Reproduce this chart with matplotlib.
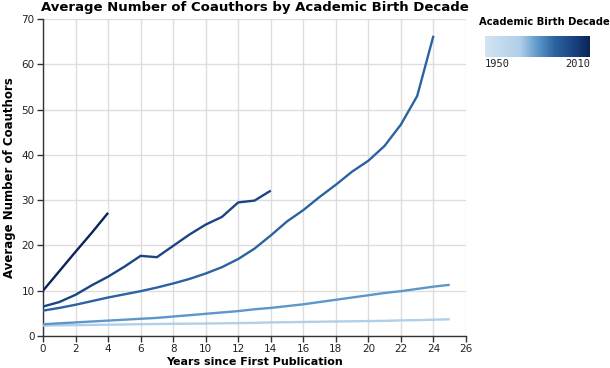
import numpy as np
import matplotlib
matplotlib.use("Agg")
import matplotlib.pyplot as plt
from matplotlib.colors import LinearSegmentedColormap, Normalize

# ---- data ----
decades = [1970, 1980, 1990, 2000, 2010]
years_1970 = list(range(0, 26))
vals_1970 = [2.3, 2.35, 2.4, 2.45, 2.5, 2.55, 2.6, 2.65, 2.7, 2.72, 2.75, 2.8, 2.85, 2.9,
             3.0, 3.05, 3.1, 3.15, 3.2, 3.25, 3.3, 3.35, 3.45, 3.5, 3.6, 3.7]
years_1980 = list(range(0, 26))
vals_1980 = [2.6, 2.8, 3.0, 3.2, 3.4, 3.6, 3.8, 4.0, 4.3, 4.6, 4.9, 5.2, 5.5, 5.9,
             6.2, 6.6, 7.0, 7.5, 8.0, 8.5, 9.0, 9.5, 9.9, 10.4, 10.9, 11.3]
years_1990 = list(range(0, 25))
vals_1990 = [5.6, 6.2, 6.9, 7.7, 8.5, 9.2, 9.9, 10.7, 11.6, 12.6, 13.8, 15.2, 17.0, 19.3,
             22.2, 25.3, 27.8, 30.7, 33.4, 36.3, 38.7, 42.0, 46.7, 53.0, 66.3]
years_2000 = list(range(0, 15))
vals_2000 = [6.5, 7.5, 9.1, 11.2, 13.1, 15.3, 17.7, 17.4, 19.9, 22.4, 24.6, 26.3, 29.5, 29.9, 32.1]
years_2010 = list(range(0, 5))
vals_2010 = [10.0, 14.3, 18.6, 22.8, 27.2]

series_x = [years_1970, years_1980, years_1990, years_2000, years_2010]
series_y = [vals_1970, vals_1980, vals_1990, vals_2000, vals_2010]

legend_min, legend_max = 1950, 2010
x_ticks = list(range(0, 27, 2))
y_ticks = list(range(0, 71, 10))

title = "Average Number of Coauthors by Academic Birth Decade"
xlabel = "Years since First Publication"
ylabel = "Average Number of Coauthors"
legend_title = "Academic Birth Decade"

# ---- style ----
cmap = LinearSegmentedColormap.from_list(
    "blues", [(0.0, "#d3e4f4"), (0.333, "#b0cfe8"), (0.5, "#5e98c9"),
              (0.667, "#2c62a1"), (0.833, "#1b4583"), (1.0, "#0b2458")])
norm = Normalize(legend_min, legend_max)

fig = plt.figure(figsize=(6.1, 3.68), dpi=100)
ax = fig.add_axes([43/610, 32/368, 423/610, 317/368])

for xs, ys, d in zip(series_x, series_y, decades):
    ax.plot(xs, ys, color=cmap(norm(d)), lw=1.7, solid_capstyle="butt", zorder=3)

ax.set_xlim(0, 26)
ax.set_ylim(0, 70)
ax.set_xticks(x_ticks)
ax.set_yticks(y_ticks)
ax.grid(True, color="#dddddd", lw=1.0, zorder=0)
ax.set_axisbelow(True)
for s in ["top", "right"]:
    ax.spines[s].set_visible(False)
for s in ["left", "bottom"]:
    ax.spines[s].set_color("#333333")
    ax.spines[s].set_linewidth(1.0)
ax.tick_params(direction="out", length=4, width=1, color="#333333",
               labelsize=7.5, labelcolor="#222222", pad=2)
ax.set_ylabel(ylabel, fontsize=8.5, fontweight="bold", labelpad=4)

fig.text(254.5/610, 1 - 7/368, title, fontsize=9.5, fontweight="bold",
         ha="center", va="center")
fig.text(254.5/610, 1/368, xlabel, fontsize=8, fontweight="bold",
         ha="center", va="bottom")

# colour legend
fig.text(479/610, 1 - 22/368, legend_title, fontsize=7.2, fontweight="bold",
         va="center", ha="left")
cax = fig.add_axes([485/610, 1 - 57/368, 105/610, 21/368])
grad = np.linspace(0, 1, 256).reshape(1, -1)
cax.imshow(grad, aspect="auto", cmap=cmap, extent=[legend_min, legend_max, 0, 1])
cax.set_xticks([])
cax.set_yticks([])
for s in cax.spines.values():
    s.set_visible(False)
fig.text(485/610, 1 - 64/368, str(legend_min), fontsize=7.5, ha="left", va="center",
         family="DejaVu Sans Mono", color="#222222")
fig.text(590/610, 1 - 64/368, str(legend_max), fontsize=7.5, ha="right", va="center",
         family="DejaVu Sans Mono", color="#222222")

fig.savefig("out.png", dpi=100)
